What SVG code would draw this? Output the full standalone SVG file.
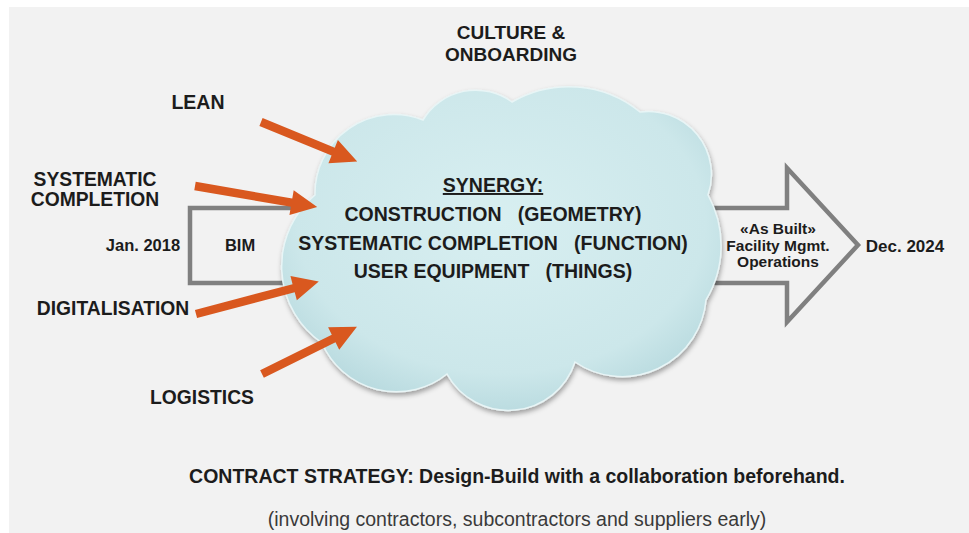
<svg xmlns="http://www.w3.org/2000/svg" width="969" height="533" viewBox="0 0 969 533">
<defs>
<style>
.t{font-family:"Liberation Sans",Arial,sans-serif;font-weight:bold;fill:#1c1c1c;text-anchor:middle;}
.pre{white-space:pre;}
.orange{fill:#d9581f;}
</style>
<radialGradient id="cloudFill" cx="0.5" cy="0.42" r="0.62">
<stop offset="0" stop-color="#d8eff1"/>
<stop offset="0.75" stop-color="#cce7ea"/>
<stop offset="1" stop-color="#b5d8dd"/>
</radialGradient>
<filter id="shadow" x="-10%" y="-10%" width="120%" height="125%">
<feDropShadow dx="1" dy="3" stdDeviation="2.5" flood-color="#000" flood-opacity="0.35"/>
</filter>
</defs>
<rect x="0" y="0" width="969" height="533" fill="#ffffff"/>
<rect x="9" y="7" width="960" height="526" fill="#f2f2f2"/>

<g id="timeline-arrow">
<path d="M190,208 L787,208 L787,168 L858,245 L787,322 L787,283 L190,283 Z" fill="none" stroke="#808080" stroke-width="4.5" stroke-linejoin="miter"/>
<text class="t" x="240" y="251" font-size="16.5">BIM</text>
<text class="t" x="778" y="234" font-size="15.5">«As Built»</text>
<text class="t" x="778" y="251" font-size="15.5">Facility Mgmt.</text>
<text class="t" x="778" y="267" font-size="15.5">Operations</text>
</g>

<g id="cloud">
<path d="M315,195 A79,79 0 0 1 423,120 A61.5,61.5 0 0 1 512,102 A113,113 0 0 1 640,112 A63,63 0 0 1 708,195 A105,105 0 0 1 706,300 A84,84 0 0 1 575,362 A70,70 0 0 1 447,374 A81,81 0 0 1 322,343 A93,93 0 0 1 315,195 Z" fill="url(#cloudFill)" stroke="#e8f5f6" stroke-width="1.5" filter="url(#shadow)"/>
<text class="t" x="493" y="192" font-size="19.5" text-decoration="underline">SYNERGY:</text>
<text class="t pre" x="493" y="221" font-size="19.5" xml:space="preserve">CONSTRUCTION   (GEOMETRY)</text>
<text class="t pre" x="493" y="249.5" font-size="19.5" xml:space="preserve">SYSTEMATIC COMPLETION   (FUNCTION)</text>
<text class="t pre" x="493" y="278" font-size="19.5" xml:space="preserve">USER EQUIPMENT   (THINGS)</text>
</g>

<g id="connectors">
<path class="orange" transform="translate(261,122) rotate(22.3)" d="M0,-4.2 H78 V-12.5 L104,0 L78,12.5 V4.2 H0 Z"/>
<path class="orange" transform="translate(195,186) rotate(9.8)" d="M0,-4.2 H98 V-12.5 L124,0 L98,12.5 V4.2 H0 Z"/>
<path class="orange" transform="translate(196,314) rotate(-14.8)" d="M0,-4.2 H101 V-12.5 L127,0 L101,12.5 V4.2 H0 Z"/>
<path class="orange" transform="translate(262,374) rotate(-26.4)" d="M0,-4.2 H80 V-12.5 L106,0 L80,12.5 V4.2 H0 Z"/>
</g>

<g id="label-culture"><text class="t" x="511" y="39" font-size="19">CULTURE &amp;</text><text class="t" x="511" y="61" font-size="19">ONBOARDING</text></g>
<g id="label-lean"><text class="t" x="198" y="109" font-size="19.5">LEAN</text></g>
<g id="label-syscomp"><text class="t" x="95" y="186" font-size="19.3">SYSTEMATIC</text><text class="t" x="95" y="206" font-size="19.3">COMPLETION</text></g>
<g id="label-digital"><text class="t" x="113" y="315" font-size="19.3">DIGITALISATION</text></g>
<g id="label-logistics"><text class="t" x="202" y="404" font-size="19.3">LOGISTICS</text></g>
<g id="label-jan"><text class="t" x="143" y="251" font-size="16.5">Jan. 2018</text></g>
<g id="label-dec"><text class="t" x="905" y="252" font-size="17">Dec. 2024</text></g>
<g id="label-contract"><text class="t" x="517" y="483" font-size="19.5">CONTRACT STRATEGY: Design-Build with a collaboration beforehand.</text></g>
<g id="label-involving"><text class="t" x="517" y="526" font-size="19.5" style="font-weight:normal;fill:#3a3a3a">(involving contractors, subcontractors and suppliers early)</text></g>
</svg>
